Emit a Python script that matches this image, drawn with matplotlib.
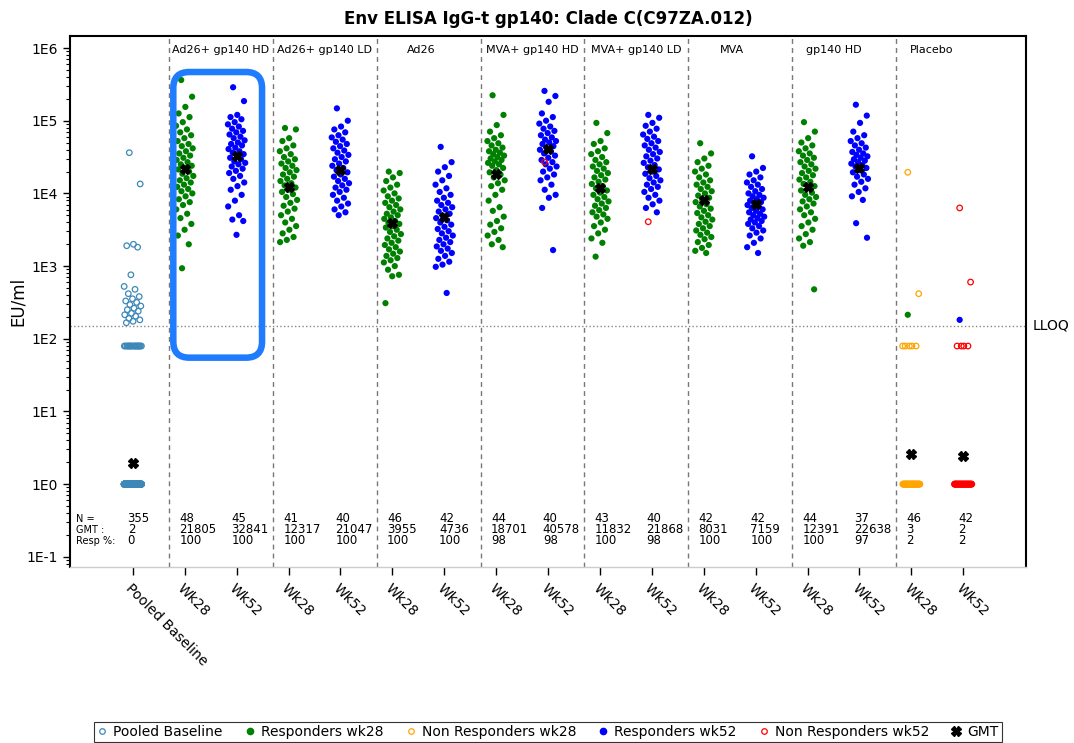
import numpy as np
import matplotlib
matplotlib.use('Agg')
import matplotlib.pyplot as plt
from matplotlib.lines import Line2D
from matplotlib.patches import FancyBboxPatch
from matplotlib.transforms import IdentityTransform, blended_transform_factory
from matplotlib.ticker import LogLocator, NullFormatter

# 读图得到的数据 (log10 EU/ml)
groups = ['Ad26+ gp140 HD', 'Ad26+ gp140 LD', 'Ad26', 'MVA+ gp140 HD',
          'MVA+ gp140 LD', 'MVA', 'gp140 HD', 'Placebo']
group_label_x = [1.7, 3.7, 5.55, 7.7, 9.7, 11.55, 13.5, 15.4]
tick_labels = ['Pooled Baseline'] + ['Wk28', 'Wk52'] * 8

n_text = [355, 48, 45, 41, 40, 46, 42, 44, 40, 43, 40, 42, 42, 44, 37, 46, 42]
gmt = [1.95, 21805, 32841, 12317, 21047, 3955, 4736, 18701, 40578, 11832,
       21868, 8031, 7159, 12391, 22638, 2.6, 2.45]
resp_pct = [0, 100, 100, 100, 100, 100, 100, 98, 98, 100, 98, 100, 100, 100, 97, 2, 2]
lloq = 150

baseline = [4.56, 4.13, 3.30, 3.28, 3.26, 2.88, 2.72, 2.68, 2.62, 2.58, 2.55, 2.52, 2.50,
            2.47, 2.45, 2.42, 2.40, 2.38, 2.35, 2.33, 2.31, 2.28, 2.26, 2.24, 2.22] \
    + [1.9] * 19 + [0.0] * 311

ad26_gp140_hd_wk28 = [5.56, 5.33, 5.19, 5.10, 5.05, 4.98, 4.93, 4.88, 4.84, 4.80, 4.76, 4.72,
                      4.68, 4.65, 4.62, 4.58, 4.55, 4.52, 4.49, 4.46, 4.43, 4.40, 4.38, 4.35,
                      4.33, 4.30, 4.27, 4.24, 4.21, 4.18, 4.15, 4.12, 4.09, 4.06, 4.03, 4.00,
                      3.96, 3.92, 3.88, 3.84, 3.78, 3.72, 3.66, 3.58, 3.50, 3.42, 3.30, 2.97]
ad26_gp140_hd_wk52 = [5.46, 5.27, 5.08, 5.05, 5.02, 4.98, 4.95, 4.92, 4.89, 4.86, 4.84, 4.81,
                      4.78, 4.76, 4.73, 4.70, 4.68, 4.66, 4.63, 4.61, 4.58, 4.56, 4.54, 4.51,
                      4.49, 4.47, 4.44, 4.42, 4.40, 4.37, 4.34, 4.31, 4.28, 4.24, 4.20, 4.15,
                      4.10, 4.05, 3.98, 3.90, 3.82, 3.70, 3.64, 3.62, 3.43]
ad26_gp140_ld_wk28 = [4.90, 4.88, 4.76, 4.72, 4.66, 4.62, 4.58, 4.54, 4.50, 4.47, 4.44, 4.41,
                      4.38, 4.35, 4.32, 4.29, 4.26, 4.23, 4.20, 4.17, 4.14, 4.11, 4.08, 4.05,
                      4.02, 3.99, 3.95, 3.91, 3.87, 3.83, 3.79, 3.75, 3.70, 3.65, 3.60, 3.55,
                      3.50, 3.45, 3.40, 3.36, 3.33]
ad26_gp140_ld_wk52 = [5.17, 5.00, 4.92, 4.88, 4.84, 4.80, 4.77, 4.74, 4.71, 4.68, 4.65, 4.62,
                      4.59, 4.56, 4.53, 4.50, 4.47, 4.44, 4.41, 4.38, 4.35, 4.32, 4.29, 4.26,
                      4.23, 4.20, 4.17, 4.14, 4.11, 4.08, 4.05, 4.02, 3.98, 3.94, 3.90, 3.86,
                      3.82, 3.78, 3.74, 3.70]
ad26_wk28 = [4.30, 4.28, 4.22, 4.17, 4.12, 4.08, 4.04, 4.00, 3.96, 3.93, 3.90, 3.87, 3.84,
             3.81, 3.78, 3.75, 3.72, 3.70, 3.67, 3.65, 3.62, 3.60, 3.58, 3.55, 3.53, 3.50,
             3.47, 3.44, 3.41, 3.38, 3.35, 3.32, 3.29, 3.26, 3.23, 3.20, 3.17, 3.14, 3.11,
             3.08, 3.05, 3.00, 2.95, 2.88, 2.86, 2.49]
ad26_wk52 = [4.64, 4.43, 4.36, 4.30, 4.24, 4.18, 4.12, 4.07, 4.02, 3.98, 3.94, 3.90, 3.87,
             3.84, 3.81, 3.78, 3.75, 3.72, 3.69, 3.66, 3.63, 3.60, 3.57, 3.54, 3.51, 3.48,
             3.45, 3.42, 3.39, 3.36, 3.33, 3.30, 3.27, 3.24, 3.21, 3.18, 3.14, 3.10, 3.06,
             3.02, 2.99, 2.63]
mva_gp140_hd_wk28 = [5.35, 5.08, 4.94, 4.85, 4.80, 4.76, 4.72, 4.69, 4.66, 4.63, 4.60, 4.58,
                     4.56, 4.54, 4.52, 4.50, 4.48, 4.46, 4.44, 4.42, 4.40, 4.38, 4.35, 4.32,
                     4.29, 4.26, 4.22, 4.18, 4.14, 4.10, 4.05, 3.98, 3.90, 3.81, 3.76, 3.68,
                     3.62, 3.57, 3.52, 3.47, 3.42, 3.36, 3.30, 3.26]
mva_gp140_hd_wk52 = [5.41, 5.34, 5.26, 5.10, 5.05, 5.00, 4.96, 4.92, 4.89, 4.86, 4.83, 4.80,
                     4.77, 4.74, 4.72, 4.70, 4.68, 4.65, 4.62, 4.60, 4.58, 4.55, 4.52, 4.49,
                     4.46, 4.43, 4.40, 4.37, 4.34, 4.30, 4.26, 4.22, 4.18, 4.12, 4.05, 3.98,
                     3.94, 3.80, 3.22]
mva_gp140_hd_wk52_nr = [4.43]
mva_gp140_ld_wk28 = [4.97, 4.83, 4.72, 4.68, 4.62, 4.58, 4.54, 4.50, 4.46, 4.43, 4.40, 4.37,
                     4.34, 4.31, 4.28, 4.25, 4.22, 4.19, 4.16, 4.13, 4.10, 4.07, 4.04, 4.01,
                     3.98, 3.95, 3.92, 3.89, 3.86, 3.83, 3.80, 3.77, 3.74, 3.71, 3.68, 3.65,
                     3.60, 3.55, 3.50, 3.45, 3.38, 3.32, 3.13]
mva_gp140_ld_wk52 = [5.08, 5.04, 4.97, 4.93, 4.89, 4.85, 4.81, 4.78, 4.75, 4.72, 4.69, 4.66,
                     4.63, 4.60, 4.57, 4.54, 4.51, 4.48, 4.45, 4.42, 4.39, 4.36, 4.33, 4.30,
                     4.27, 4.24, 4.21, 4.18, 4.15, 4.12, 4.09, 4.06, 4.02, 3.98, 3.94, 3.90,
                     3.85, 3.80, 3.74]
mva_gp140_ld_wk52_nr = [3.61]
mva_wk28 = [4.69, 4.55, 4.48, 4.43, 4.38, 4.34, 4.30, 4.26, 4.22, 4.18, 4.15, 4.12, 4.09,
            4.06, 4.03, 4.00, 3.97, 3.94, 3.91, 3.88, 3.85, 3.82, 3.79, 3.76, 3.73, 3.70,
            3.67, 3.64, 3.61, 3.58, 3.55, 3.52, 3.49, 3.46, 3.43, 3.40, 3.37, 3.33, 3.29,
            3.25, 3.21, 3.18]
mva_wk52 = [4.51, 4.35, 4.30, 4.26, 4.22, 4.18, 4.15, 4.12, 4.09, 4.06, 4.03, 4.00, 3.98,
            3.96, 3.94, 3.92, 3.90, 3.88, 3.86, 3.84, 3.82, 3.80, 3.78, 3.76, 3.74, 3.72,
            3.70, 3.68, 3.66, 3.64, 3.62, 3.60, 3.58, 3.55, 3.52, 3.49, 3.46, 3.42, 3.38,
            3.32, 3.26, 3.18]
gp140_hd_wk28 = [4.98, 4.85, 4.76, 4.70, 4.66, 4.62, 4.58, 4.55, 4.52, 4.49, 4.46, 4.43,
                 4.40, 4.37, 4.34, 4.31, 4.28, 4.25, 4.22, 4.19, 4.16, 4.13, 4.10, 4.07,
                 4.04, 4.01, 3.98, 3.95, 3.92, 3.89, 3.86, 3.82, 3.78, 3.74, 3.70, 3.65,
                 3.60, 3.55, 3.50, 3.44, 3.38, 3.33, 3.28, 2.68]
gp140_hd_wk52 = [5.22, 5.07, 4.97, 4.85, 4.80, 4.76, 4.72, 4.69, 4.66, 4.63, 4.60, 4.57,
                 4.55, 4.53, 4.51, 4.49, 4.47, 4.45, 4.43, 4.41, 4.39, 4.37, 4.35, 4.32,
                 4.29, 4.26, 4.23, 4.20, 4.16, 4.12, 4.07, 4.02, 3.96, 3.91, 3.59, 3.39]
placebo_wk28 = [2.33]
placebo_wk28_nr = [4.29, 2.62] + [1.9] * 5 + [0.0] * 38
placebo_wk52 = [2.26]
placebo_wk52_nr = [3.80, 2.78] + [1.9] * 4 + [0.0] * 35

resp_wk28 = [ad26_gp140_hd_wk28, ad26_gp140_ld_wk28, ad26_wk28, mva_gp140_hd_wk28,
             mva_gp140_ld_wk28, mva_wk28, gp140_hd_wk28, placebo_wk28]
resp_wk52 = [ad26_gp140_hd_wk52, ad26_gp140_ld_wk52, ad26_wk52, mva_gp140_hd_wk52,
             mva_gp140_ld_wk52, mva_wk52, gp140_hd_wk52, placebo_wk52]
nr_wk28 = [[], [], [], [], [], [], [], placebo_wk28_nr]
nr_wk52 = [[], [], [], mva_gp140_hd_wk52_nr, mva_gp140_ld_wk52_nr, [], [], placebo_wk52_nr]

c_base = '#3d88b8'
c_r28, c_nr28, c_r52, c_nr52 = 'green', 'orange', 'blue', 'red'


def jitter(n, width=0.17):
    # 黄金分割序列, 相同数值排成一条横带
    return ((np.arange(n) * 0.618034 + 0.3) % 1 - 0.5) * 2 * width


def strip(ax, pos, vals, color, filled):
    vals = np.asarray(vals, dtype=float)
    if len(vals) == 0:
        return
    x = pos + jitter(len(vals))
    if filled:
        ax.scatter(x, 10 ** vals, s=20, color=color, edgecolors='none', zorder=3)
    else:
        ax.scatter(x, 10 ** vals, s=16, facecolors='none', edgecolors=color,
                   linewidths=0.9, zorder=4)


fig = plt.figure(figsize=(10.74, 7.43), dpi=100)
ax = fig.add_axes([0.0652, 0.2369, 0.8901, 0.7146])
ax.set_yscale('log')
ax.set_xlim(-1.21, 17.21)
ax.set_ylim(10 ** -1.14, 10 ** 6.165)

strip(ax, 0, baseline, c_base, False)
for g in range(8):
    p28, p52 = 2 * g + 1, 2 * g + 2
    strip(ax, p28, resp_wk28[g], c_r28, True)
    strip(ax, p52, resp_wk52[g], c_r52, True)
    strip(ax, p28, nr_wk28[g], c_nr28, False)
    strip(ax, p52, nr_wk52[g], c_nr52, False)

positions = np.arange(len(gmt))
ax.plot(positions, gmt, 'X', color='black', ms=7, ls='none', zorder=6)

# 分组虚线和组名
for k in range(8):
    ax.axvline(0.7 + 2 * k, color='#777777', ls=(0, (3.5, 3)), lw=1, zorder=1)
top_tr = blended_transform_factory(ax.transData, ax.transAxes)
for x, name in zip(group_label_x, groups):
    ax.text(x, 0.974, name, transform=top_tr, ha='center', va='center', fontsize=8)

# LLOQ
ax.axhline(lloq, color='#888888', ls=':', lw=1, zorder=1)
ax.text(1.007, lloq, 'LLOQ', transform=blended_transform_factory(ax.transAxes, ax.transData),
        va='center', ha='left', fontsize=10)

# 底部统计
row_y = [0.091, 0.070, 0.049]
for y, lab in zip(row_y, ['N =', 'GMT :', 'Resp %:']):
    ax.text(0.006, y, lab, transform=ax.transAxes, va='center', fontsize=7)
for i in range(len(n_text)):
    for y, s in zip(row_y, [n_text[i], int(round(gmt[i])), resp_pct[i]]):
        ax.text(i - 0.1, y, str(s), transform=top_tr, va='center', ha='left', fontsize=8.5)

# 坐标轴
ax.set_yticks([10.0 ** k for k in range(-1, 7)])
ax.set_yticklabels(['1E-1', '1E0', '1E1', '1E2', '1E3', '1E4', '1E5', '1E6'], fontsize=10)
ax.yaxis.set_minor_locator(LogLocator(base=10, subs=np.arange(2, 10)))
ax.yaxis.set_minor_formatter(NullFormatter())
ax.tick_params(axis='y', which='major', length=5, width=1)
ax.tick_params(axis='y', which='minor', length=3, width=0.8)
ax.set_xticks(positions)
ax.set_xticklabels(tick_labels, rotation=-45, ha='left', va='top',
                   rotation_mode='anchor', fontsize=10)
ax.tick_params(axis='x', length=6, width=1, pad=4)
ax.set_ylabel('EU/ml', fontsize=12)
ax.yaxis.set_label_coords(-0.045, 0.5)
ax.set_title('Env ELISA IgG-t gp140: Clade C(C97ZA.012)', fontsize=12,
             fontweight='bold', pad=9)

for side in ['top', 'right', 'left']:
    ax.spines[side].set_linewidth(1.5)
ax.spines['bottom'].set_color('#cccccc')
ax.spines['bottom'].set_linewidth(1)

# 高亮框
p0 = ax.transData.transform((0.78, 10 ** 1.74))
p1 = ax.transData.transform((2.49, 10 ** 5.67))
box = FancyBboxPatch(p0, p1[0] - p0[0], p1[1] - p0[1],
                     boxstyle='round,pad=0,rounding_size=16', transform=IdentityTransform(),
                     fill=False, ec='#1f7cff', lw=4.7, zorder=10)
fig.add_artist(box)

handles = [
    Line2D([], [], ls='none', marker='o', ms=4, mfc='none', mec=c_base, mew=0.9),
    Line2D([], [], ls='none', marker='o', ms=4.5, color=c_r28),
    Line2D([], [], ls='none', marker='o', ms=4, mfc='none', mec=c_nr28, mew=0.9),
    Line2D([], [], ls='none', marker='o', ms=4.5, color=c_r52),
    Line2D([], [], ls='none', marker='o', ms=4, mfc='none', mec=c_nr52, mew=0.9),
    Line2D([], [], ls='none', marker='X', ms=7, color='black'),
]
labels = ['Pooled Baseline', 'Responders wk28', 'Non Responders wk28',
          'Responders wk52', 'Non Responders wk52', 'GMT']
leg = fig.legend(handles, labels, loc='lower center', bbox_to_anchor=(0.51, 0.0), ncol=6,
                 fancybox=False, edgecolor='black', fontsize=10, handlelength=0.8,
                 handletextpad=0.4, columnspacing=1.55, borderpad=0.2, borderaxespad=0.1)
leg.get_frame().set_linewidth(0.8)

fig.savefig('out.png', dpi=100)
